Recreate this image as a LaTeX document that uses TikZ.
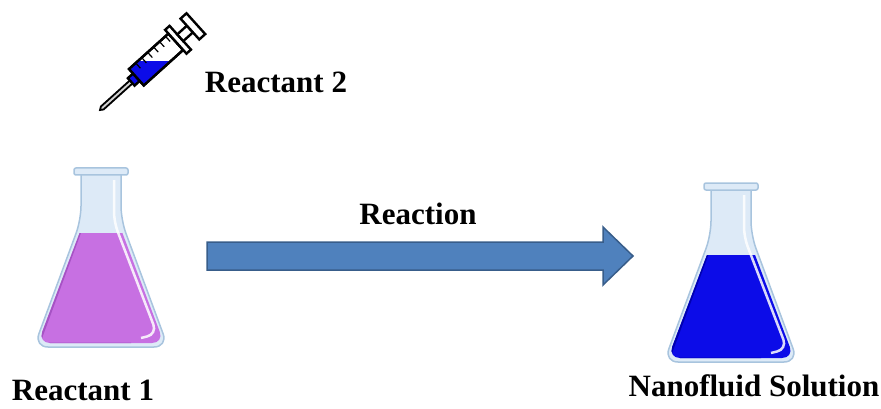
\documentclass[tikz,border=0pt]{standalone}
\usepackage{fontspec}
\setmainfont{Liberation Serif}

\definecolor{glassfill}{RGB}{221,234,247}
\definecolor{glassedge}{RGB}{168,196,222}
\definecolor{purpliq}{RGB}{199,112,226}
\definecolor{purpdark}{RGB}{166,82,196}
\definecolor{blueliq}{RGB}{12,12,232}
\definecolor{bluedark}{RGB}{0,0,176}
\definecolor{arrowfill}{RGB}{79,129,189}
\definecolor{arrowedge}{RGB}{56,93,138}

\begin{document}
\begin{tikzpicture}[x=1pt,y=-1pt,
        txt/.style = {font=\fontsize{31}{36}\selectfont\bfseries,
            inner sep=0pt, anchor=base},
        glass/.style = {fill=glassfill, draw=glassedge, line width=1.5},
        pics/flask/.style n args = {3}{code={
            % glass body, cut off under the rim
            \begin{scope}
                \clip (-80,4) rectangle (80,190);
                \path[glass, rounded corners=14] (-20,-30) -- (-20,52) -- (-67,179)
                    -- (67,179) -- (20,52) -- (20,-30) -- cycle;
            \end{scope}
            % liquid up to level #3
            \begin{scope}
                \clip[rounded corners=12] (-16.5,-30) -- (-16.5,52) -- (-63,175)
                    -- (63,175) -- (16.5,52) -- (16.5,-30) -- cycle;
                \clip (-70,#3) rectangle (70,180);
                \fill[#1] (-70,#3) rectangle (70,180);
                \draw[#2, line width=9, rounded corners=12]
                    (-20,52) -- (-67,179) -- (30,179);
            \end{scope}
            % highlight
            \draw[white, line width=2.5, rounded corners=10, opacity=.85]
                (13,12) -- (13,54) -- (56,166) -- (40,170);
            % rim
            \path[glass, rounded corners=2] (-27,0) rectangle (27,7);
        }}]

    \useasboundingbox (0,0) rectangle (881,409);

    % Syringe
    \begin{scope}[shift={(100,110)}, rotate=42, line width=2.4]
        \draw[fill=gray!35, line width=1.8] (0,0) -- (3,-2) -- (45,-2) -- (45,2) -- (3,2) -- cycle;
        \draw[fill=blueliq] (42,-5) rectangle (49,5);
        \draw[fill=white] (49,-11) rectangle (102,11);
        \fill[blueliq] (50,-10) -- (62,-10) -- (84,10) -- (50,10) -- cycle;
        \foreach \t in {58,66,...,98}
            \draw[line width=1.2] (\t,-10) -- (\t,-4);
        \draw (49,-11) rectangle (102,11);
        \draw[fill=white] (102,-16) rectangle (108,16);
        \draw[fill=white] (108,-4.5) rectangle (121,4.5);
        \draw[fill=white] (121,-14) rectangle (129,14);
    \end{scope}

    % Flasks
    \pic at (101,168) {flask={purpliq}{purpdark}{65}};
    \pic at (731,183) {flask={blueliq}{bluedark}{72}};

    % Reaction arrow
    \draw[fill=arrowfill, draw=arrowedge, line width=1.5]
        (207,242) -- (603,242) -- (603,227) -- (633,256)
        -- (603,285) -- (603,270) -- (207,270) -- cycle;

    % Labels
    \node[txt] (r1) at (83,400) {Reactant 1};
    \node[txt] (r2) at (276,93) {Reactant 2};
    \node[txt] (rxn) at (418,224) {Reaction};
    \node[txt] (nf) at (754,396) {Nanofluid Solution};

\end{tikzpicture}
\end{document}
